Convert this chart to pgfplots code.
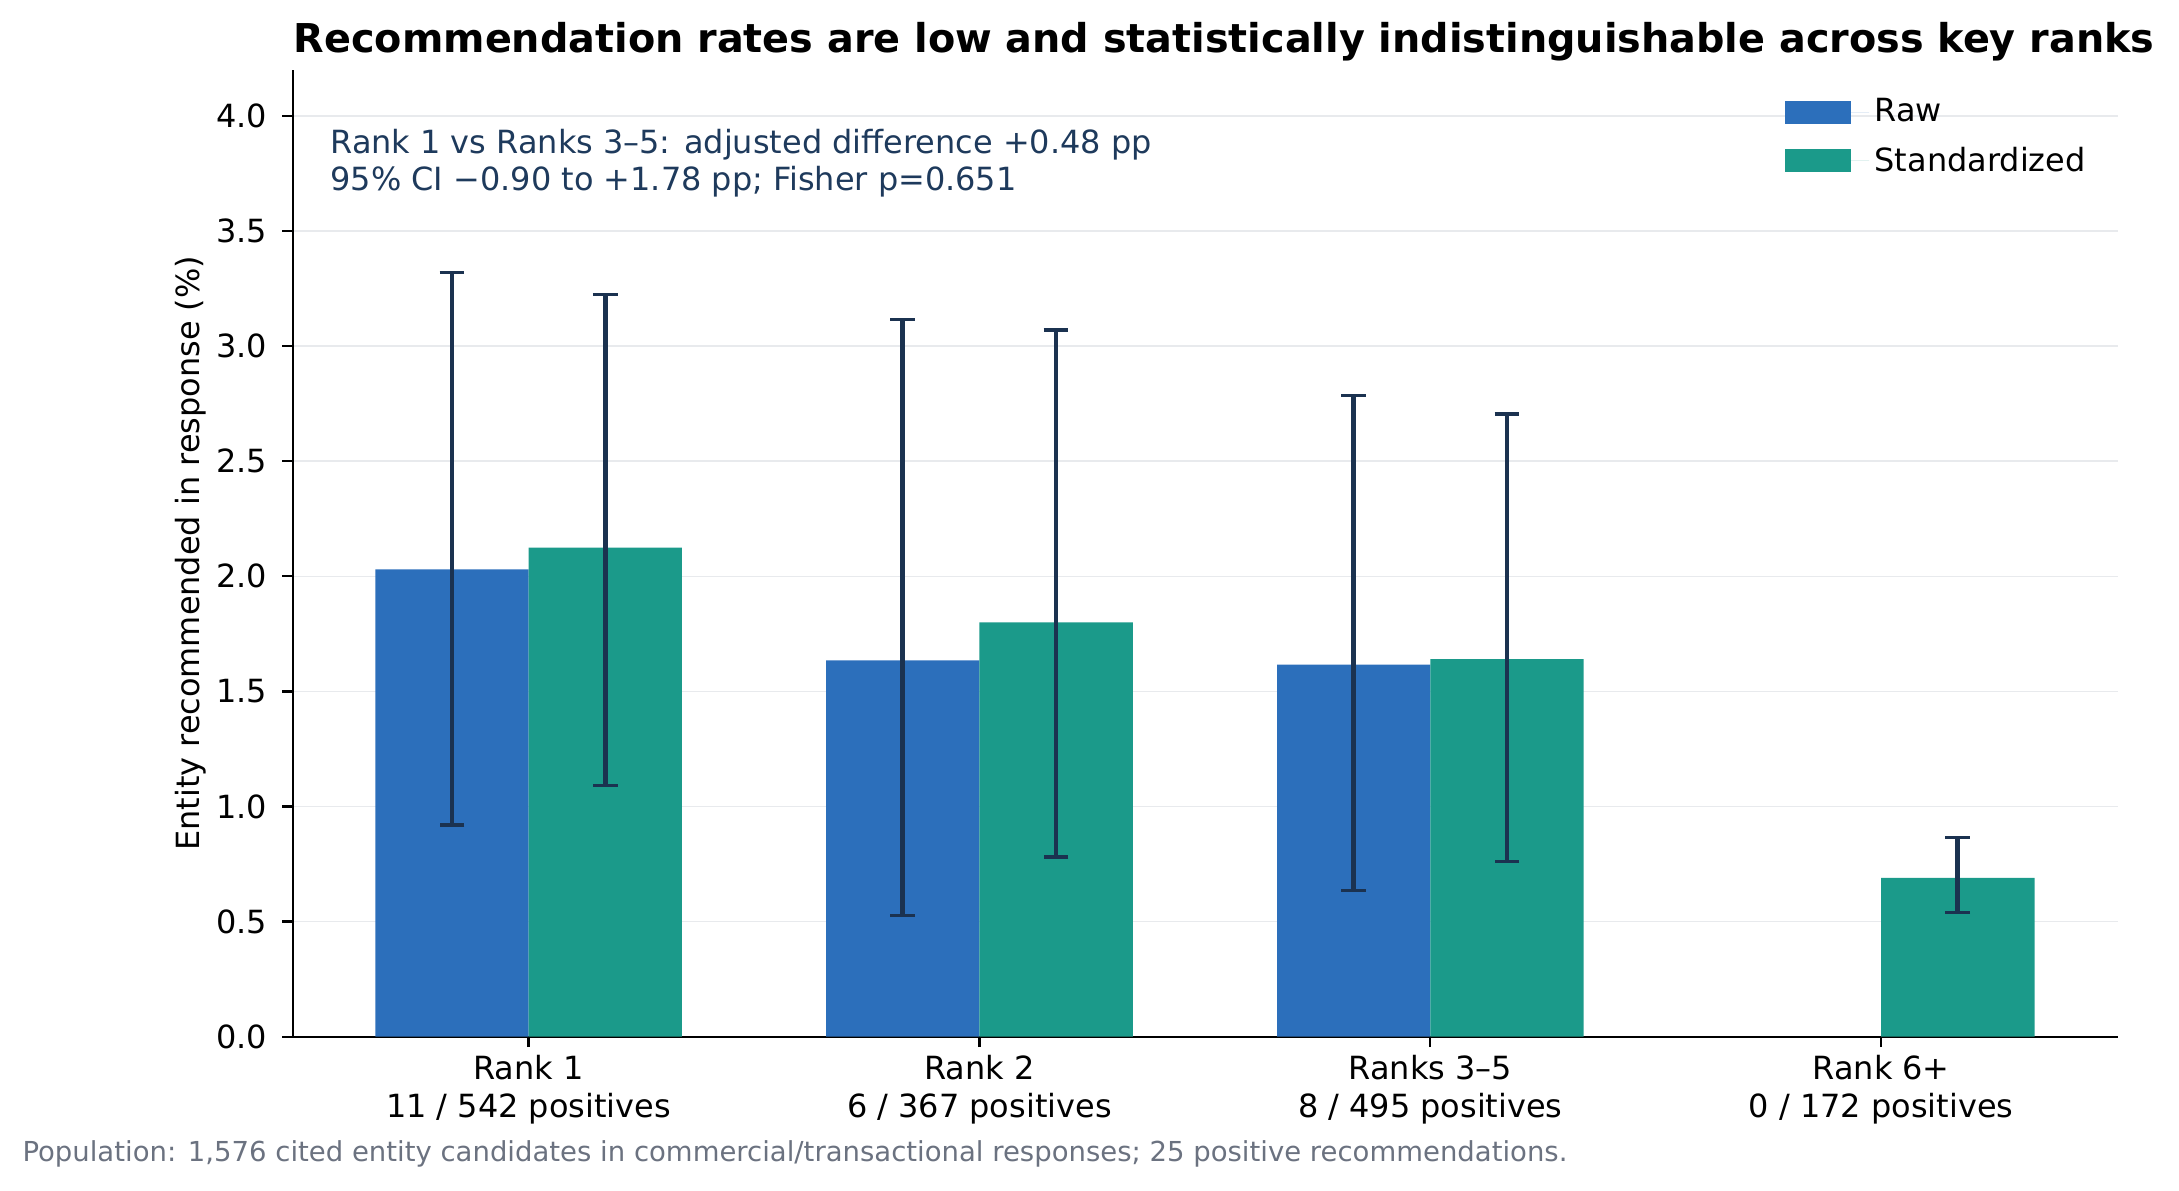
\documentclass[border=0pt]{standalone}
\usepackage{fontspec}
\setmainfont{DejaVu Sans}
\usepackage{pgfplots}
\pgfplotsset{compat=1.18}
\definecolor{rawc}{HTML}{2C6FBB}
\definecolor{stdc}{HTML}{1B9A8A}
\definecolor{errc}{HTML}{1B3250}
\definecolor{annc}{HTML}{1E3A5C}
\definecolor{footc}{HTML}{6B7280}
\definecolor{gridc}{HTML}{E8EAED}
\begin{document}
\begin{tikzpicture}[x=1pt,y=1pt]
\path[use as bounding box] (0,0) rectangle (784.44,428.4);
\begin{axis}[
  at={(105.4pt,55.2pt)}, anchor=south west,
  scale only axis, width=657.2pt, height=348pt,
  ybar, bar width=0.34,
  xmin=-0.523, xmax=3.526, ymin=0, ymax=4.2,
  axis x line*=bottom, axis y line*=left,
  axis line style={line width=0.8pt, black},
  tick align=outside,
  major tick length=3.8pt,
  tick style={line width=0.8pt, black},
  xtick={0,1,2,3},
  xticklabels={{Rank 1\\11 / 542 positives},{Rank 2\\6 / 367 positives},{Ranks 3–5\\8 / 495 positives},{Rank 6+\\0 / 172 positives}},
  xticklabel style={align=center, font=\fontsize{11.5}{13.6}\selectfont, inner sep=0pt, yshift=-2.7pt},
  ytick={0,0.5,1,1.5,2,2.5,3,3.5,4},
  yticklabel style={font=\fontsize{11.5}{13.6}\selectfont, inner sep=0pt, xshift=-5.3pt},
  /pgf/number format/assume math mode=true,
  /pgf/number format/.cd, fixed, fixed zerofill, precision=1, /pgfplots/.cd,
  ymajorgrids, grid style={line width=0.6pt, gridc},
  every axis y label/.style={at={(axis description cs:-0.0509,0.5)}, anchor=base, rotate=90, font=\fontsize{11.5}{13.6}\selectfont},
  ylabel={Entity recommended in response (\%)},
  legend style={draw=none, fill=none, inner sep=0pt, outer sep=0pt, at={(0.8175,0.9763)}, anchor=north west, row sep=3.5pt, font=\fontsize{11.5}{13.6}\selectfont, cells={anchor=west, inner sep=0pt}},
  legend cell align=left,
  legend image code/.code={\fill[#1, draw=none] (0pt,-4.15pt) rectangle (23.6pt,4.15pt); \path (0pt,0pt) -- (30.2pt,0pt);},
  error bars/y dir=both, error bars/y explicit,
  error bars/error bar style={line width=1.7pt, errc},
  error bars/error mark options={rotate=90, mark size=4.45pt, line width=1.2pt, errc},
]
\addplot[fill=rawc, draw=none, bar shift=-0.17] coordinates {
  (0,2.03) += (0,1.29) -= (0,1.11)
  (1,1.635) += (0,1.48) -= (0,1.11)
  (2,1.616) += (0,1.17) -= (0,0.98)
};
\addlegendentry{Raw}
\addplot[fill=stdc, draw=none, bar shift=0.17] coordinates {
  (0,2.125) += (0,1.10) -= (0,1.035)
  (1,1.80) += (0,1.27) -= (0,1.02)
  (2,1.64) += (0,1.065) -= (0,0.88)
  (3,0.69) += (0,0.175) -= (0,0.15)
};
\addlegendentry{Standardized}
\end{axis}
\node[anchor=base west, inner sep=0pt, font=\bfseries\fontsize{14.3}{16}\selectfont] at (105.6,409.6) {Recommendation rates are low and statistically indistinguishable across key ranks};
\node[anchor=base west, inner sep=0pt, text=annc, font=\fontsize{11.5}{13.4}\selectfont] at (118.8,373.0) {Rank 1 vs Ranks 3–5: adjusted difference +0.48 pp};
\node[anchor=base west, inner sep=0pt, text=annc, font=\fontsize{11.5}{13.4}\selectfont] at (118.8,359.8) {95\% CI −0.90 to +1.78 pp; Fisher p=0.651};
\node[anchor=base west, inner sep=0pt, text=footc, font=\fontsize{9.9}{12}\selectfont] at (7.9,10.2) {Population: 1,576 cited entity candidates in commercial/transactional responses; 25 positive recommendations.};
\end{tikzpicture}
\end{document}
